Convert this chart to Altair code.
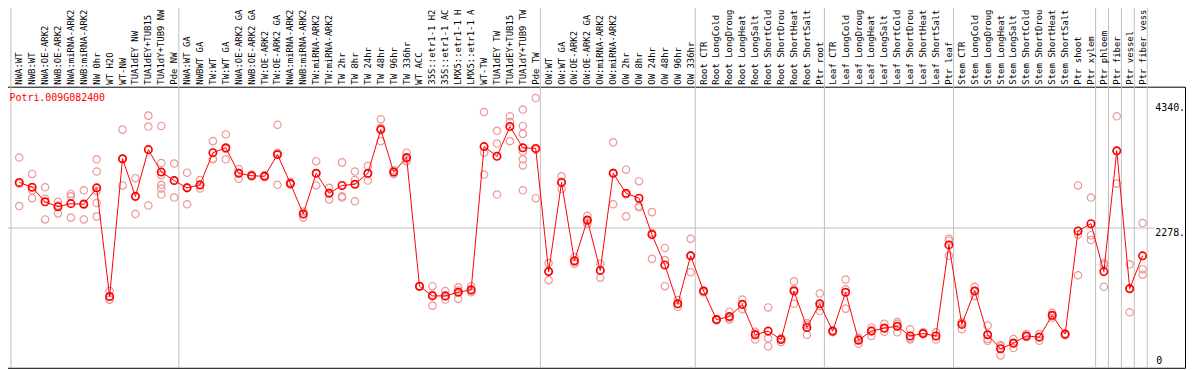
import altair as alt
import pandas as pd

gene_name = "Potri.009G082400"

# sample names as far as they are visible above the plot
sample_labels = [
    "NWA:WT", "NWB:WT", "NWA:OE-ARK2", "NWB:OE-ARK2", "NWA:miRNA-ARK2", "NWB:miRNA-ARK2",
    "NW 0hr", "WT H2O", "WT-NW", "TUA1dEY NW", "TUA1dEY+TUB15", "TUA1dY+TUB9 NW", "Pde NW",
    "NWA:WT GA", "NWBWT GA", "TW:WT", "TW:WT GA", "NWA:OE-ARK2 GA", "NWB:OE-ARK2 GA",
    "TW:OE-ARK2", "TW:OE-ARK2 GA", "NWA:miRNA-ARK2", "NWB:miRNA-ARK2", "TW:miRNA-ARK2",
    "TW:miRNA-ARK2", "TW 2hr", "TW 8hr", "TW 24hr", "TW 48hr", "TW 96hr", "TW 336hr",
    "WT ACC", "35S::etr1-1 H2", "35S::etr1-1 AC", "LMX5::etr1-1 H", "LMX5::etr1-1 A",
    "WT-TW", "TUA1dEY TW", "TUA1dEY+TUB15", "TUA1dY+TUB9 TW", "Pde TW",
    "OW:WT", "OW:WT GA", "OW:OE-ARK2", "OW:OE-ARK2 GA", "OW:miRNA-ARK2", "OW:miRNA-ARK2",
    "OW 2hr", "OW 8hr", "OW 24hr", "OW 48hr", "OW 96hr", "OW 336hr",
    "Root CTR", "Root LongCold", "Root LongDroug", "Root LongHeat", "Root LongSalt",
    "Root ShortCold", "Root ShortDrou", "Root ShortHeat", "Root ShortSalt", "Ptr root",
    "Leaf CTR", "Leaf LongCold", "Leaf LongDroug", "Leaf LongHeat", "Leaf LongSalt",
    "Leaf ShortCold", "Leaf ShortDrou", "Leaf ShortHeat", "Leaf ShortSalt", "Ptr leaf",
    "Stem CTR", "Stem LongCold", "Stem LongDroug", "Stem LongHeat", "Stem LongSalt",
    "Stem ShortCold", "Stem ShortDrou", "Stem ShortHeat", "Stem ShortSalt", "Ptr shoot",
    "Ptr xylem", "Ptr phloem", "Ptr fiber", "Ptr vessel", "Ptr fiber vess",
]

mean_values = [
    3030, 2950, 2710, 2630, 2680, 2670, 2940, 1150, 3420, 2800, 3570, 3200, 3060,
    2940, 2990, 3520, 3600, 3180, 3140, 3130, 3490, 3010, 2510, 3180, 2850, 2980, 3000,
    3180, 3900, 3200, 3440, 1320, 1160, 1160, 1220, 1260, 3620, 3460, 3950, 3600, 3590,
    1560, 3030, 1740, 2410, 1580, 3180, 2850, 2770, 2170, 1670, 1030, 1820,
    1240, 770, 820, 1020, 520, 580, 440, 1240, 640, 1030,
    580, 1220, 430, 580, 630, 660, 500, 540, 500, 2000,
    690, 1240, 520, 290, 380, 500, 480, 840, 530, 2230, 2350,
    1560, 3550, 1280, 1820,
]

replicate_values = [
    [3440, 3010, 2640], [3170, 2900, 2770], [2950, 2760, 2420], [2710, 2650, 2520],
    [2840, 2800, 2450], [2900, 2680, 2420], [3410, 3210, 2890, 2690, 2470], [1240, 1100, 1100],
    [3900, 3420, 2980], [3100, 2800, 2510], [4130, 3950, 2650],
    [3960, 3350, 3150, 2990, 2930, 2830], [3340, 3060, 2780],
    [3190, 2950, 2670], [3070, 2980, 2930], [3710, 3420, 3410], [3820, 3580, 3410],
    [3250, 3190, 3090], [3160, 3140, 3130], [3150, 3130, 3120], [3980, 3520, 2990],
    [3040, 3000, 3000], [2550, 2510, 2450], [3380, 3180, 2980], [2940, 2860, 2750],
    [3360, 2800, 2780], [3210, 3070, 2720], [3300, 3170, 3060], [4070, 3930, 3710],
    [3230, 3200, 3170], [3520, 3420, 3380], [1320, 1320, 1310], [1320, 1180, 1000],
    [1240, 1150, 1100], [1300, 1250, 1110], [1320, 1240, 1220], [4190, 3520, 3160],
    [3880, 3670, 2830], [4120, 4030, 3710], [4230, 3960, 3830, 3540, 3410, 3310, 2900],
    [4420, 3570, 2770],
    [1700, 1570, 1420], [3130, 3040, 2920], [1800, 1720, 1690], [2480, 2390, 2350],
    [1690, 1580, 1460], [3690, 3190, 2670], [3240, 2830, 2470], [3050, 2640, 2620],
    [2540, 2200, 1770], [1950, 1750, 1320], [1090, 1030, 980], [2100, 1830, 1550],
    [1250, 1240, 1220], [780, 760, 760], [900, 790, 770], [1100, 1020, 940],
    [570, 540, 440], [970, 460, 330], [460, 460, 400], [1400, 1270, 1030],
    [710, 680, 520], [1200, 990, 910],
    [590, 580, 560], [1430, 1270, 950], [470, 450, 370], [640, 590, 500],
    [700, 620, 570], [730, 700, 560], [610, 460, 440], [560, 540, 530],
    [560, 500, 440], [2100, 2070, 1820],
    [730, 720, 610], [1310, 1240, 1160], [670, 450, 420], [350, 330, 180],
    [450, 390, 300], [530, 490, 480], [530, 490, 420], [880, 830, 800],
    [540, 530, 510], [2980, 2170, 1500], [2780, 2160, 2080],
    [1700, 1670, 1310], [4120, 3550, 3010], [1680, 1270, 890], [2360, 1600, 1510],
]

group_sizes = [13, 28, 12, 10, 10, 11, 1, 1, 1, 1]
ytick_values = [4340, 2278]
ytick_labels = ["4340.", "2278."]
zero_value = [0]
zero_label = ["0"]
gridline_values = [2278]

# ---- tables built from the arrays ----
idx = list(range(len(sample_labels)))
means_df = pd.DataFrame({"i": idx, "label": sample_labels, "value": mean_values})
reps_df = pd.DataFrame(
    [{"i": i, "value": v} for i, reps in enumerate(replicate_values) for v in reps]
)
bounds = [-1]
acc = -1
for g in group_sizes:
    acc += g
    bounds.append(acc)
sep_df = pd.DataFrame({"i": [b + 0.36 for b in bounds]})
ytick_df = pd.DataFrame({"value": ytick_values, "label": ytick_labels})
zero_df = pd.DataFrame({"value": zero_value, "label": zero_label})
grid_df = pd.DataFrame({"value": gridline_values})
title_df = pd.DataFrame({"label": [gene_name]})

W, H = 1192, 283
FONT = "DejaVu Sans Mono"
xscale = alt.Scale(domain=[-1.408, 90.285], nice=False, zero=False)
yscale = alt.Scale(domain=[-24.5, 4607], nice=False, zero=False)
X = alt.X("i:Q", scale=xscale, axis=None)
Y = alt.Y("value:Q", scale=yscale, axis=None)

seps = alt.Chart(sep_df).mark_rule(color="#c0c0c0", strokeWidth=1).encode(
    x=X, y=alt.value(-86), y2=alt.value(H)
)
hgrid = alt.Chart(grid_df).mark_rule(color="#c0c0c0", strokeWidth=1).encode(
    y=Y, x=alt.value(0), x2=alt.value(1161)
)
reps = alt.Chart(reps_df).mark_point(
    shape="circle", filled=False, color="#ec9898", size=55, strokeWidth=1.2, opacity=1
).encode(x=X, y=Y)
line = alt.Chart(means_df).mark_line(color="#ff0000", strokeWidth=1).encode(
    x=X, y=Y, order="i:Q"
)
means = alt.Chart(means_df).mark_point(
    shape="circle", filled=False, color="#ff0000", size=55, strokeWidth=1.7, opacity=1
).encode(x=X, y=Y)
xlabels = alt.Chart(means_df).mark_text(
    angle=270, align="left", baseline="middle", font=FONT, fontSize=9, color="black"
).encode(x=X, y=alt.value(-2), text="label:N")
ylabels = alt.Chart(ytick_df).mark_text(
    align="left", baseline="top", font=FONT, fontSize=10, color="black"
).encode(y=Y, x=alt.value(1162), text="label:N")
zlabel = alt.Chart(zero_df).mark_text(
    align="left", baseline="bottom", font=FONT, fontSize=10, color="black"
).encode(y=Y, x=alt.value(1163), text="label:N")
title = alt.Chart(title_df).mark_text(
    align="left", baseline="top", font=FONT, fontSize=10, color="#ff0000"
).encode(x=alt.value(8.5), y=alt.value(6), text="label:N")

chart = (
    alt.layer(seps, hgrid, reps, line, means, xlabels, ylabels, zlabel, title)
    .properties(
        width=W,
        height=H,
        autosize=alt.AutoSizeParams(type="none"),
        padding={"left": -7, "top": 78, "right": 1, "bottom": 1},
        background="white",
    )
    .configure_view(stroke="black", strokeWidth=1)
)

chart.save("out.html", embed_options={"renderer": "svg", "actions": False})
